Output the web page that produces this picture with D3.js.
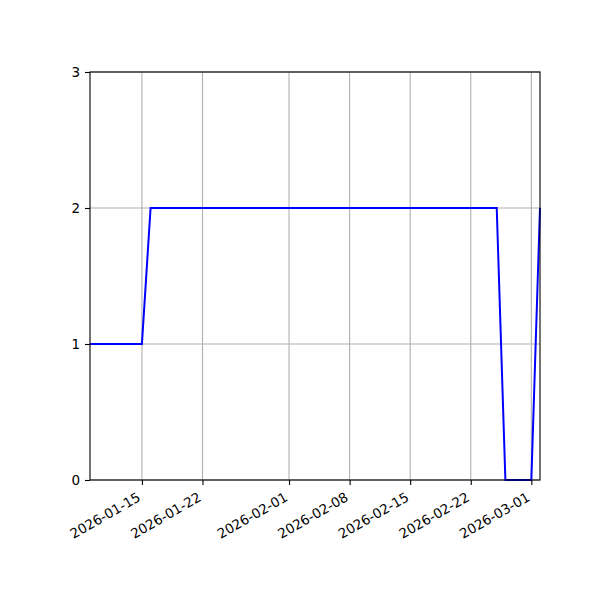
<!DOCTYPE html>
<html>
<head>
<meta charset="utf-8">
<script src="https://cdn.jsdelivr.net/npm/d3@7"></script>
<style>
  body { margin: 0; background: #fff; }
  svg text { font-family: "DejaVu Sans", sans-serif; }
</style>
</head>
<body>
<div id="chart"></div>
<script>
// data: vertices of the step series (value per day)
const dates = ["2026-01-09", "2026-01-15", "2026-01-16", "2026-02-25", "2026-02-26", "2026-03-01", "2026-03-02"];
const values = [1, 1, 2, 2, 0, 0, 2];
const xTicks = ["2026-01-15", "2026-01-22", "2026-02-01", "2026-02-08", "2026-02-15", "2026-02-22", "2026-03-01"];
const yTicks = [0, 1, 2, 3];

const parse = d3.timeParse("%Y-%m-%d");
const fmt = d3.timeFormat("%Y-%m-%d");
const points = dates.map((d, i) => ({ date: parse(d), value: values[i] }));

const width = 600, height = 600;
const margin = { top: 72, right: 60, bottom: 120, left: 90 };

const svg = d3.select("#chart").append("svg")
  .attr("width", width)
  .attr("height", height);

const x = d3.scaleUtc()
  .domain(d3.extent(points, d => d.date))
  .range([margin.left, width - margin.right]);

const y = d3.scaleLinear()
  .domain([0, 3])
  .range([height - margin.bottom, margin.top]);

// grid
svg.append("g")
  .selectAll("line.gx")
  .data(xTicks.map(parse))
  .enter()
  .append("line")
  .attr("x1", d => x(d)).attr("x2", d => x(d))
  .attr("y1", margin.top).attr("y2", height - margin.bottom)
  .attr("stroke", "#b0b0b0")
  .attr("stroke-width", 1.1);

svg.append("g")
  .selectAll("line.gy")
  .data(yTicks)
  .enter()
  .append("line")
  .attr("x1", margin.left).attr("x2", width - margin.right)
  .attr("y1", d => y(d)).attr("y2", d => y(d))
  .attr("stroke", "#b0b0b0")
  .attr("stroke-width", 1.1);

// line
const line = d3.line()
  .x(d => x(d.date))
  .y(d => y(d.value));

svg.append("path")
  .datum(points)
  .attr("fill", "none")
  .attr("stroke", "#0000ff")
  .attr("stroke-width", 2)
  .attr("d", line);

// frame
svg.append("rect")
  .attr("x", margin.left)
  .attr("y", margin.top)
  .attr("width", width - margin.left - margin.right)
  .attr("height", height - margin.top - margin.bottom)
  .attr("fill", "none")
  .attr("stroke", "#000")
  .attr("stroke-width", 1.1);

// x axis
const xAxis = svg.append("g")
  .attr("transform", `translate(0, ${height - margin.bottom})`)
  .call(d3.axisBottom(x)
    .tickValues(xTicks.map(parse))
    .tickFormat(fmt)
    .tickSize(5));

xAxis.select(".domain").remove();
xAxis.selectAll(".tick line").attr("stroke", "#000").attr("stroke-width", 1.1);
// right-aligned, rotated 30 degrees, top-right corner at the tick
xAxis.selectAll(".tick text")
  .style("font-size", "13.5px")
  .attr("fill", "#000")
  .attr("text-anchor", "end")
  .attr("x", 0)
  .attr("y", 0)
  .attr("dy", "0.76em")
  .attr("transform", "translate(-6, 11) rotate(-30)");

// y axis
const yAxis = svg.append("g")
  .attr("transform", `translate(${margin.left}, 0)`)
  .call(d3.axisLeft(y)
    .tickValues(yTicks)
    .tickFormat(d3.format("d"))
    .tickSize(5)
    .tickPadding(5));

yAxis.select(".domain").remove();
yAxis.selectAll(".tick line").attr("stroke", "#000").attr("stroke-width", 1.1);
yAxis.selectAll(".tick text")
  .style("font-size", "13.5px")
  .attr("fill", "#000");
</script>
</body>
</html>
